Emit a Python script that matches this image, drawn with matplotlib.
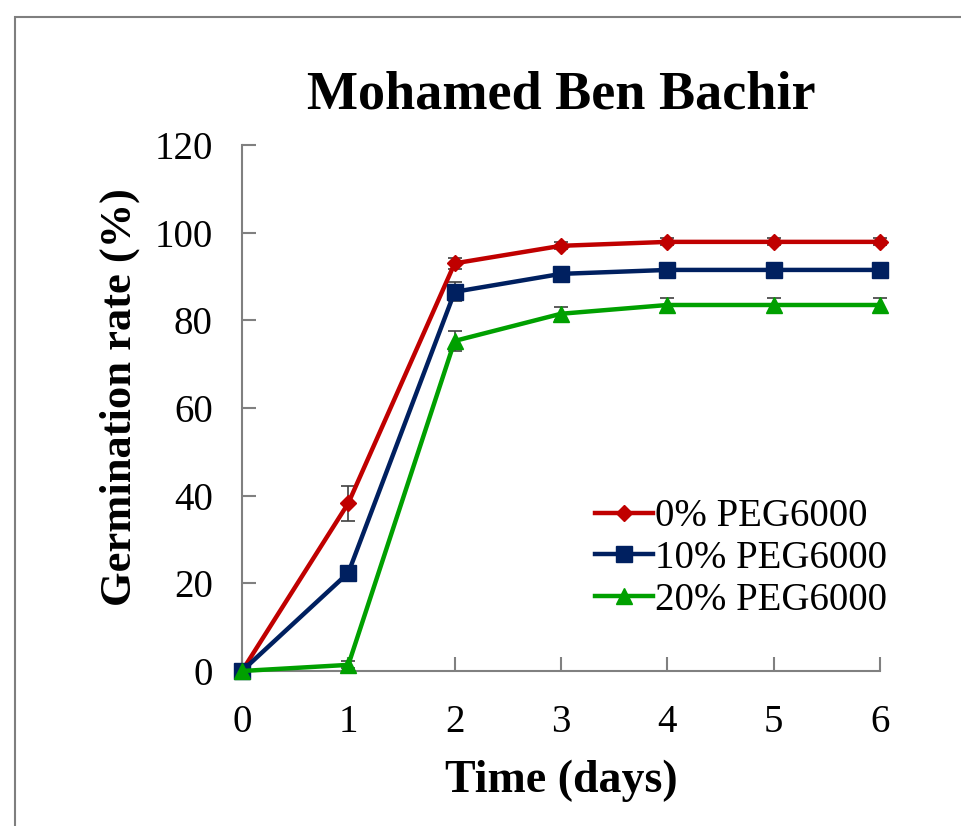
import matplotlib
matplotlib.use("Agg")
import matplotlib.pyplot as plt
from matplotlib.patches import Rectangle
from matplotlib.container import ErrorbarContainer

days = [0, 1, 2, 3, 4, 5, 6]
peg0 = [0, 38.3, 93.0, 97.0, 97.9, 97.9, 97.9]
peg0_err = [0, 4.0, 1.2, 0.8, 0.8, 0.8, 0.8]
peg10 = [0, 22.4, 86.5, 90.6, 91.5, 91.5, 91.5]
peg10_err = [0, 1.0, 2.2, 1.0, 1.0, 1.0, 1.0]
peg20 = [0, 1.4, 75.3, 81.5, 83.5, 83.5, 83.5]
peg20_err = [0, 0.8, 2.2, 1.5, 1.6, 1.6, 1.6]
labels = ["0% PEG6000", "10% PEG6000", "20% PEG6000"]
colors = ["#C00000", "#002060", "#00A000"]
markers = ["D", "s", "^"]
msizes = [8, 11, 11]

plt.rcParams["font.family"] = ["Liberation Serif", "DejaVu Serif"]

fig = plt.figure(figsize=(9.62, 8.26), dpi=100)
fig.patches.append(Rectangle((15/962, -0.01), 1.0, 1 - 17/826 + 0.01,
                             transform=fig.transFigure, fill=False,
                             edgecolor="#7f7f7f", linewidth=1.5))
ax = fig.add_axes([242/962, 1 - 671/826, (880 - 242)/962, (671 - 145)/826])

for ys, es, lab, c, m, ms in zip([peg0, peg10, peg20], [peg0_err, peg10_err, peg20_err],
                                 labels, colors, markers, msizes):
    ax.errorbar(days, ys, yerr=es, color=c, marker=m, markersize=ms, linewidth=3.2,
                ecolor="#404040", elinewidth=1.2, capsize=5, capthick=1.2,
                label=lab, clip_on=False, zorder=3)

ax.set_xlim(0, 6)
ax.set_ylim(0, 120)
ax.set_xticks(range(0, 7))
ax.set_yticks(range(0, 121, 20))
for s in ["top", "right"]:
    ax.spines[s].set_visible(False)
for s in ["left", "bottom"]:
    ax.spines[s].set_color("#808080")
    ax.spines[s].set_linewidth(1.5)
ax.tick_params(direction="in", length=10, width=1.5, color="#808080", labelsize=28)
ax.tick_params(axis="x", pad=24)
ax.tick_params(axis="y", pad=21)

ax.set_title("Mohamed Ben Bachir", fontsize=39, fontweight="bold", pad=26)
ax.set_xlabel("Time (days)", fontsize=33, fontweight="bold", labelpad=13)
ax.set_ylabel("Germination rate (%)", fontsize=32, fontweight="bold")
ax.yaxis.set_label_coords(-0.16, 0.52)

handles, lbls = ax.get_legend_handles_labels()
hs = [h[0] if isinstance(h, ErrorbarContainer) else h for h in handles]
ax.legend(hs, lbls, loc="lower right", bbox_to_anchor=(1.036, 0.07), frameon=False,
          fontsize=28, handlelength=1.5, handletextpad=0.05, labelspacing=0.12,
          borderaxespad=0)

fig.savefig("out.png", dpi=100)
